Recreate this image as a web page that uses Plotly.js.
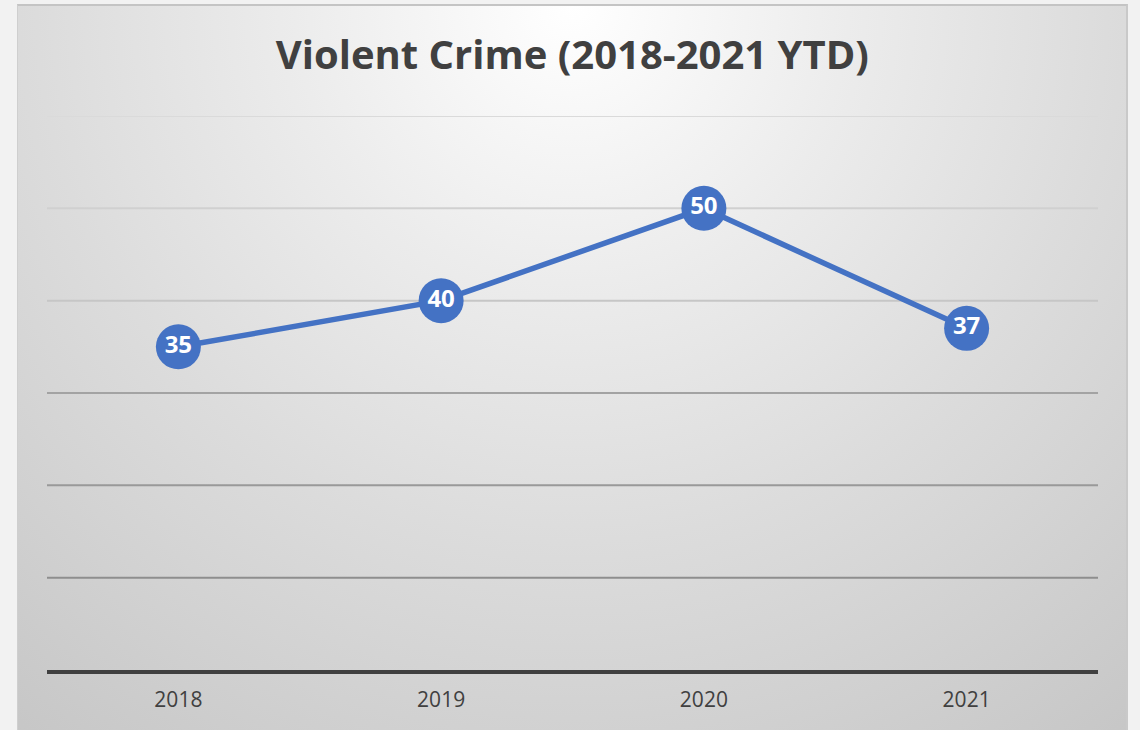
<!DOCTYPE html>
<html>
<head>
<meta charset="utf-8">
<script src="https://cdn.plot.ly/plotly-3.0.1.min.js"></script>
<style>
  html, body { margin: 0; padding: 0; background: #f2f2f2; width: 1140px; height: 730px; overflow: hidden; }
  #bgbox {
    position: absolute; left: 17px; top: 4px; width: 1111px; height: 740px;
    background: radial-gradient(circle farthest-corner at 50% 0%, #ffffff 0%, #ececec 30%, #dcdcdc 58%, #c6c6c6 100%);
    border-top: 2px solid #c4c4c4; border-left: 1px solid #cfcfcf; border-right: 2px solid #c9c9c9;
    box-sizing: border-box;
  }
  #chart { position: absolute; left: 0; top: 0; width: 1140px; height: 730px; }
</style>
</head>
<body>
<div id="bgbox"></div>
<div id="chart"></div>
<script>
// Data
const years = ['2018', '2019', '2020', '2021'];
const violentCrimes = [35, 40, 50, 37];
const gridValues = [10, 20, 30, 40, 50, 60];

// Styles
const blue = '#4472C4';
const gridColors = ['#8e8e8e', '#999999', '#a3a3a3', '#c6c6c6', '#d0d0d0', '#dadada'];

const trace = {
  x: years,
  y: violentCrimes,
  type: 'scatter',
  mode: 'lines+markers+text',
  line: { color: blue, width: 5.5 },
  marker: { color: blue, size: 45, line: { width: 0 } },
  text: violentCrimes.map(String),
  textposition: 'middle center',
  textfont: { family: 'Open Sans, sans-serif', size: 24, color: '#ffffff', weight: 700 },
  hoverinfo: 'skip',
  cliponaxis: false
};

const shapes = gridValues.map((v, i) => ({
  type: 'line', layer: 'below', xref: 'paper', x0: 0, x1: 1, yref: 'y', y0: v, y1: v,
  line: { color: gridColors[i], width: 2 }
}));

const layout = {
  width: 1140, height: 730,
  paper_bgcolor: 'rgba(0,0,0,0)',
  plot_bgcolor: 'rgba(0,0,0,0)',
  margin: { l: 47, r: 42, t: 116, b: 60, pad: 0 },
  showlegend: false,
  title: {
    text: '<b>Violent Crime (2018-2021 YTD)</b>',
    font: { family: 'Open Sans, sans-serif', size: 40, color: '#404040' },
    x: 0.502, xanchor: 'center', y: 0.925, yanchor: 'middle'
  },
  xaxis: {
    type: 'category',
    range: [-0.5, 3.5],
    showgrid: false, zeroline: false,
    showline: true, linecolor: '#404040', linewidth: 4,
    ticks: '', ticklen: 0,
    ticklabelstandoff: 8,
    tickfont: { family: 'Open Sans, sans-serif', size: 21, color: '#404040' },
    fixedrange: true
  },
  yaxis: {
    range: [0, 60],
    showgrid: false, zeroline: false, showline: false,
    showticklabels: false, ticks: '',
    fixedrange: true
  },
  shapes: shapes
};

Plotly.newPlot('chart', [trace], layout, { displayModeBar: false, staticPlot: true });
</script>
</body>
</html>
